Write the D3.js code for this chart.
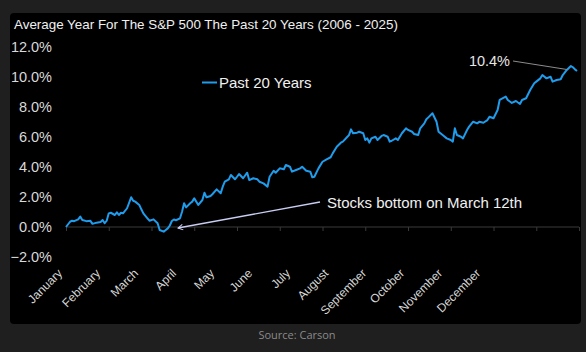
<!DOCTYPE html>
<html>
<head>
<meta charset="utf-8">
<script src="https://cdn.jsdelivr.net/npm/d3@7"></script>
<style>
  html, body { margin: 0; padding: 0; background: #1f1f1f; }
  svg { display: block; }
</style>
</head>
<body>
<svg width="586" height="352"></svg>
<script>
// trading day of year (0..251) and average return in %
const days = [0, 2, 3, 4, 6, 7, 8, 10, 12, 13, 15, 17, 18, 19, 20, 21, 22, 24, 25, 26, 27, 28, 30, 32, 33, 34, 36, 37, 38, 40,
  41, 43, 45, 46, 48, 49, 50, 51, 52, 53, 54, 56, 57, 58, 59, 61, 62, 63, 65, 67, 68, 69, 71, 72, 74, 76, 77, 78, 80, 81,
  83, 84, 85, 87, 89, 90, 92, 94, 95, 97, 99, 100, 102, 103, 105, 107, 108, 110, 111, 113, 115, 116, 118, 120, 121, 122, 124, 126, 128, 130,
  131, 133, 135, 136, 138, 139, 140, 141, 143, 144, 146, 147, 148, 149, 150, 152, 153, 155, 156, 158, 159, 160, 162, 163, 165, 167, 168, 170, 171, 173,
  174, 176, 177, 178, 180, 182, 183, 185, 187, 189, 190, 191, 192, 194, 195, 197, 198, 200, 202, 203, 205, 207, 208, 210, 212, 213, 216, 217, 219, 221,
  223, 224, 226, 228, 230, 231, 233, 234, 236, 238, 239, 241, 243, 244, 246, 248, 249, 250, 251];
const avgReturn = [0.0, 0.35, 0.42, 0.39, 0.51, 0.69, 0.47, 0.39, 0.41, 0.21, 0.29, 0.33, 0.47, 0.25, 0.42, 0.91, 0.95, 0.8, 0.98, 0.8, 0.95, 0.91, 1.25, 1.98, 1.75, 1.69, 1.47, 1.18, 0.91, 0.58,
  0.42, 0.51, 0.25, -0.2, -0.31, -0.2, -0.09, 0.1, 0.4, 0.5, 0.45, 0.58, 1.02, 1.58, 1.31, 1.58, 1.69, 1.91, 1.47, 1.8, 2.29, 1.98, 2.07, 2.2, 2.51, 2.25, 2.69, 3.02, 3.18, 3.47,
  3.18, 3.35, 3.53, 3.25, 3.62, 3.13, 3.25, 3.18, 3.02, 2.91, 2.69, 3.35, 3.75, 3.62, 3.91, 3.85, 4.13, 4.02, 3.69, 3.8, 3.91, 4.02, 3.75, 3.69, 3.31, 3.35, 3.91, 4.35, 4.51, 4.65,
  4.91, 5.35, 5.62, 5.69, 5.98, 6.13, 6.51, 6.25, 6.29, 6.35, 6.25, 5.8, 5.91, 5.62, 5.91, 6.02, 5.8, 6.07, 6.13, 6.02, 5.69, 5.75, 5.91, 5.8, 6.25, 6.58, 6.47, 6.35, 6.2, 6.13,
  6.58, 6.91, 7.18, 7.31, 7.58, 7.02, 6.35, 6.13, 5.91, 5.8, 5.69, 6.58, 6.13, 6.02, 5.91, 6.47, 6.69, 7.02, 6.91, 7.02, 6.95, 7.13, 7.35, 7.25, 7.8, 8.47, 8.69, 8.47, 8.27, 8.4,
  8.2, 8.47, 8.58, 9.13, 9.58, 9.69, 9.91, 10.13, 9.91, 10.02, 9.69, 9.8, 9.85, 10.13, 10.47, 10.73, 10.65, 10.51, 10.4];
const months = ["January", "February", "March", "April", "May", "June", "July", "August",
  "September", "October", "November", "December"];
const yTicks = [-2, 0, 2, 4, 6, 8, 10, 12];
const tickDays = [0, 21, 42, 63, 84, 105, 126, 147, 168, 189, 210, 231, 252];

const svg = d3.select("svg");
const font = "'Liberation Sans', Arial, sans-serif";

// panel
svg.append("rect").attr("x", 10).attr("y", 13).attr("width", 571).attr("height", 311)
  .attr("rx", 4).attr("fill", "#000");

svg.append("text").attr("x", 14).attr("y", 29)
  .attr("fill", "#f0f0f0").style("font", `13.4px ${font}`)
  .text("Average Year For The S&P 500 The Past 20 Years (2006 - 2025)");

const x = d3.scaleLinear().domain([0, 251]).range([66, 577]);
const y = d3.scaleLinear().domain([-2, 12]).range([257, 47]);

// y axis labels
const yAxis = svg.append("g").attr("transform", "translate(55,0)")
  .call(d3.axisLeft(y).tickValues(yTicks).tickSize(0).tickPadding(3)
    .tickFormat(d => d3.format(".1f")(d) + "%"));
yAxis.select(".domain").remove();
yAxis.selectAll("text").attr("fill", "#d9d9d9").style("font", `14.5px ${font}`);

// zero line with ticks
const zeroAxis = svg.append("g").attr("transform", `translate(0,${y(0)})`)
  .call(d3.axisBottom(x).tickValues(tickDays).tickSize(4).tickFormat(""));
zeroAxis.select(".domain").attr("stroke", "#3a3a3a");
zeroAxis.selectAll(".tick line").attr("stroke", "#3a3a3a");
zeroAxis.select(".domain").attr("d", `M${x(0)},0H${x(252)}`);

// month labels
const mx = d3.scalePoint().domain(months).range([63, 481]);
svg.append("g").selectAll("text").data(months).join("text")
  .attr("transform", d => `translate(${mx(d)},274) rotate(-45)`)
  .attr("text-anchor", "end")
  .attr("fill", "#d6d6d6").style("font", `12px ${font}`)
  .text(d => d);

// line
const series = days.map((d, i) => ({ day: d, v: avgReturn[i] }));
svg.append("path").datum(series)
  .attr("fill", "none").attr("stroke", "#1f9cec").attr("stroke-width", 2)
  .attr("stroke-linejoin", "round")
  .attr("d", d3.line().x(d => x(d.day)).y(d => y(d.v)));

// legend
svg.append("line").attr("x1", 202).attr("x2", 217).attr("y1", 82.5).attr("y2", 82.5)
  .attr("stroke", "#1f9cec").attr("stroke-width", 2);
svg.append("text").attr("x", 219).attr("y", 88).attr("fill", "#f0f0f0")
  .style("font", `15px ${font}`).text("Past 20 Years");

// annotation: bottom
svg.append("defs").append("marker").attr("id", "arr")
  .attr("viewBox", "0 0 10 10").attr("refX", 9).attr("refY", 5)
  .attr("markerWidth", 7).attr("markerHeight", 7).attr("markerUnits", "userSpaceOnUse")
  .attr("orient", "auto")
  .append("path").attr("d", "M2,1L9,5L2,9").attr("fill", "none")
  .attr("stroke", "#c9cdf2").attr("stroke-width", 1.5);
svg.append("line").attr("x1", 320).attr("y1", 202)
  .attr("x2", x(55)).attr("y2", y(0) + 1)
  .attr("stroke", "#c9cdf2").attr("stroke-width", 1.3)
  .attr("marker-end", "url(#arr)");
svg.append("text").attr("x", 327).attr("y", 208).attr("fill", "#f0f0f0")
  .style("font", `15px ${font}`).text("Stocks bottom on March 12th");

// annotation: final value
const last = series[series.length - 1];
svg.append("line").attr("x1", 513).attr("y1", 61).attr("x2", x(last.day) - 10).attr("y2", y(last.v) - 1.5)
  .attr("stroke", "#8c8c8c").attr("stroke-width", 1);
svg.append("text").attr("x", 510).attr("y", 66).attr("text-anchor", "end")
  .attr("fill", "#e6e6e6").style("font", `14.5px ${font}`)
  .text(d3.format(".1f")(last.v) + "%");

// source
svg.append("text").attr("x", 297).attr("y", 339).attr("text-anchor", "middle")
  .attr("fill", "#8a8a8a").style("font", "11px 'Open Sans', sans-serif")
  .text("Source: Carson");
</script>
</body>
</html>
